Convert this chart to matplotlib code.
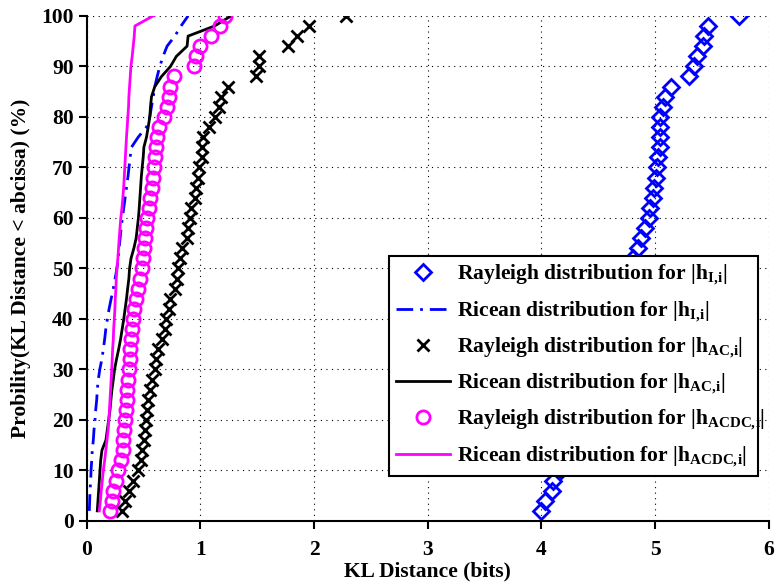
import numpy as np
import matplotlib
matplotlib.use('Agg')
import matplotlib.pyplot as plt

plt.rcParams['font.family'] = ['Liberation Serif', 'DejaVu Serif']
plt.rcParams['font.weight'] = 'bold'
plt.rcParams['mathtext.fontset'] = 'custom'
plt.rcParams['mathtext.rm'] = 'Liberation Serif:bold'
plt.rcParams['mathtext.bf'] = 'Liberation Serif:bold'
plt.rcParams['mathtext.it'] = 'Liberation Serif:bold'
plt.rcParams['mathtext.default'] = 'bf'

# cumulative probability levels (%)
levels = [2, 4, 6, 8, 10, 12, 14, 16, 18, 20, 22, 24, 26, 28, 30, 32, 34, 36, 38, 40,
          42, 44, 46, 48, 50, 52, 54, 56, 58, 60, 62, 64, 66, 68, 70, 72, 74, 76, 78, 80,
          82, 84, 86, 88, 90, 92, 94, 96, 98, 100]

# KL distances (bits), sorted, one per level
rayleigh_I = [4.00, 4.03, 4.09, 4.10, 4.17, 4.22, 4.27, 4.31, 4.35, 4.39,
              4.42, 4.45, 4.48, 4.51, 4.54, 4.56, 4.58, 4.61, 4.63, 4.65,
              4.68, 4.70, 4.72, 4.75, 4.78, 4.81, 4.85, 4.88, 4.91, 4.95,
              4.96, 4.98, 4.99, 5.01, 5.02, 5.03, 5.04, 5.04, 5.04, 5.04,
              5.07, 5.09, 5.14, 5.30, 5.34, 5.37, 5.42, 5.43, 5.47, 5.74]

ricean_I = [0.023, 0.026, 0.029, 0.035, 0.038, 0.044, 0.049, 0.058, 0.064, 0.073,
            0.079, 0.088, 0.093, 0.102, 0.115, 0.133, 0.146, 0.158, 0.168, 0.182,
            0.197, 0.215, 0.234, 0.250, 0.266, 0.276, 0.285, 0.294, 0.303, 0.314,
            0.326, 0.338, 0.350, 0.362, 0.372, 0.382, 0.394, 0.453, 0.526, 0.555,
            0.570, 0.585, 0.599, 0.620, 0.643, 0.672, 0.707, 0.775, 0.830, 0.892]

rayleigh_AC = [0.31, 0.34, 0.37, 0.41, 0.45, 0.48, 0.49, 0.50, 0.51, 0.52,
               0.53, 0.54, 0.56, 0.57, 0.60, 0.61, 0.63, 0.66, 0.69, 0.70,
               0.72, 0.73, 0.78, 0.79, 0.80, 0.82, 0.84, 0.88, 0.89, 0.91,
               0.92, 0.95, 0.96, 0.98, 0.99, 1.01, 1.01, 1.02, 1.08, 1.13,
               1.16, 1.18, 1.24, 1.49, 1.52, 1.52, 1.77, 1.85, 1.96, 2.28]

ricean_AC = [0.093, 0.099, 0.105, 0.111, 0.117, 0.123, 0.134, 0.169, 0.181, 0.193,
             0.205, 0.213, 0.222, 0.234, 0.245, 0.262, 0.281, 0.298, 0.312, 0.326,
             0.338, 0.350, 0.360, 0.371, 0.377, 0.390, 0.415, 0.435, 0.445, 0.455,
             0.462, 0.468, 0.474, 0.480, 0.488, 0.497, 0.503, 0.526, 0.541, 0.555,
             0.561, 0.570, 0.599, 0.658, 0.737, 0.789, 0.883, 0.892, 1.125, 1.271]

rayleigh_ACDC = [0.205, 0.219, 0.234, 0.257, 0.278, 0.298, 0.316, 0.321, 0.330, 0.336,
                 0.345, 0.351, 0.356, 0.365, 0.372, 0.380, 0.384, 0.390, 0.399, 0.406,
                 0.418, 0.430, 0.450, 0.470, 0.485, 0.495, 0.500, 0.510, 0.520, 0.530,
                 0.550, 0.560, 0.570, 0.585, 0.590, 0.600, 0.610, 0.620, 0.640, 0.680,
                 0.710, 0.720, 0.730, 0.770, 0.940, 0.960, 1.000, 1.090, 1.170, 1.220]

ricean_ACDC = [0.111, 0.120, 0.128, 0.137, 0.146, 0.158, 0.168, 0.178, 0.188, 0.195,
               0.200, 0.205, 0.210, 0.215, 0.220, 0.224, 0.228, 0.234, 0.237, 0.243,
               0.248, 0.251, 0.257, 0.260, 0.266, 0.274, 0.280, 0.286, 0.293, 0.300,
               0.310, 0.318, 0.325, 0.330, 0.335, 0.340, 0.345, 0.350, 0.356, 0.362,
               0.368, 0.371, 0.377, 0.383, 0.389, 0.400, 0.409, 0.418, 0.424, 0.585]

labels = [r'Rayleigh distribution for |h$_{I,\!i}$|',
          r'Ricean distribution for |h$_{I,\!i}$|',
          r'Rayleigh distribution for |h$_{AC,\!i}$|',
          r'Ricean distribution for |h$_{AC,\!i}$|',
          r'Rayleigh distribution for |h$_{ACDC,\!i}$|',
          r'Ricean distribution for |h$_{ACDC,\!i}$|']

fig = plt.figure(figsize=(7.77, 5.88), dpi=100)
ax = fig.add_axes([0.1116, 0.114, 0.8777, 0.859])

ax.plot(rayleigh_I, levels, 'D', color='blue', mfc='none', mew=2, ms=8, label=labels[0])
ax.plot(ricean_I, levels, color='blue', lw=2, linestyle=(0, (6, 2.5, 1, 2.5)), label=labels[1])
ax.plot(rayleigh_AC, levels, 'x', color='black', mew=2, ms=9, label=labels[2])
ax.plot(ricean_AC, levels, color='black', lw=2, label=labels[3])
ax.plot(rayleigh_ACDC, levels, 'o', color='magenta', mfc='none', mew=2, ms=9.5, label=labels[4])
ax.plot(ricean_ACDC, levels, color='magenta', lw=2, label=labels[5])

ax.set_xlim(0, 6)
ax.set_ylim(0, 100)
ax.set_xticks(range(0, 7))
ax.set_yticks(range(0, 101, 10))
ax.grid(True, color='black', linestyle=(0, (1, 4)), linewidth=0.8)
ax.spines['top'].set_visible(False)
ax.spines['right'].set_visible(False)
ax.spines['left'].set_linewidth(1.5)
ax.spines['bottom'].set_linewidth(1.5)
ax.tick_params(direction='out', length=6, width=1.5, labelsize=15.5)
ax.tick_params(axis='x', pad=8)
ax.tick_params(axis='y', pad=3.5)
ax.set_xlabel('KL Distance (bits)', fontsize=15.5, fontweight='bold')
ax.set_ylabel('Probility(KL Distance < abcissa) (%)', fontsize=15.5, fontweight='bold')
ax.xaxis.set_label_coords(0.5, -0.08)
ax.yaxis.set_label_coords(-0.082, 0.5)

leg = ax.legend(loc='upper left', bbox_to_anchor=(0.443, 0.525, 0.541, 0.0), mode='expand',
                prop={'size': 15.5, 'weight': 'bold'}, frameon=True, fancybox=False,
                edgecolor='black', borderpad=0.35, labelspacing=0.56, handlelength=2.5,
                handletextpad=0.3, borderaxespad=0)
leg.get_frame().set_linewidth(1.5)
leg.get_frame().set_alpha(1)

fig.savefig('out.png', dpi=100)
